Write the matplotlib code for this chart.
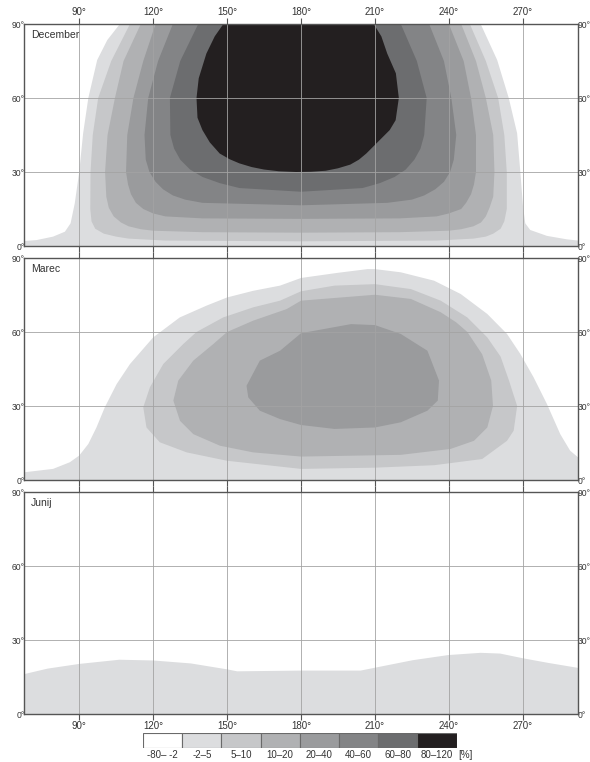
import matplotlib
matplotlib.use("Agg")
import matplotlib.pyplot as plt
from matplotlib.patches import Rectangle

plt.rcParams["font.family"] = ["Liberation Sans", "DejaVu Sans"]

# legend classes (percent) and their grey tones
CLASS_LABELS = ["-80\u2013 -2", "-2\u20135", "5\u201310", "10\u201320",
                "20\u201340", "40\u201360", "60\u201380", "80\u2013120"]
CLASS_COLORS = ["#ffffff", "#dcdddf", "#c6c7c9", "#b0b1b3",
                "#9a9b9d", "#838486", "#6c6d6f", "#231f20"]

AZ_TICKS = [90, 120, 150, 180, 210, 240, 270]
ALT_TICKS = [0, 30, 60, 90]

# contour outlines (azimuth deg, altitude deg), outer to inner, class index
DEC = [
    (1,
     [106.5, 101.4, 97.3, 93.7, 91.6, 90.0, 88.2, 86.5, 84.2, 79.4, 72.7, 67.5,
      67.5, 292.4, 292.4, 287.9, 279.8, 273.0, 271.0, 270.1, 269.0, 267.7,
      264.3, 259.6, 252.9],
     [90, 83.5, 75.4, 60, 45.7, 30, 17.3, 9.2, 5.8, 3.8, 2.4, 2.0,
      0, 0, 2.2, 2.7, 4.1, 6.5, 9.2, 15.9, 30, 45.7, 60, 75.4, 90]),
    (2,
     [110.6, 103, 97.7, 95.5, 94.6, 94.5, 95, 96.5, 100, 105, 110, 125, 180,
      235, 250, 255, 258, 261, 262.5, 263.5, 263.5, 262.5, 260, 255, 248.5],
     [90, 75, 60, 45, 30, 15, 10, 7, 5, 3.8, 3, 2.2, 1.9,
      2.2, 3, 3.8, 5, 7, 10, 15, 30, 45, 60, 75, 90]),
    (3,
     [115, 108, 104.5, 101.5, 100.5, 101, 102, 104, 107, 110, 115, 120, 140,
      180, 220, 240, 245, 250, 253, 255, 256.5, 258, 258.5, 258, 255, 251,
      245],
     [90, 75, 60, 45, 30, 20, 15.5, 12, 9.5, 8, 6.8, 6.2, 5.6,
      5.4, 5.6, 6.2, 6.8, 8, 9.5, 12, 15.5, 20, 30, 45, 60, 75, 90]),
    (4,
     [121, 116, 112, 109.5, 109, 109.8, 111, 113, 116, 120, 125, 140, 180, 220,
      235, 240, 245, 247, 249, 250.2, 251, 251, 249, 246, 240],
     [90, 75, 60, 45, 30, 25, 21, 17.5, 15, 13.2, 12, 11.2, 11, 11.2,
      12, 13.2, 15, 17.5, 21, 25, 30, 45, 60, 75, 90]),
    (5,
     [128, 122, 118, 116.5, 117, 118.5, 121, 124, 128, 133, 140, 180, 215,
      225, 230, 234.5, 238, 240.5, 242, 243, 241, 238, 232],
     [90, 75, 60, 45, 35, 30, 26, 23, 20.5, 18.8, 17.5, 16.5, 17.5,
      18.8, 20.5, 23, 26, 30, 35, 45, 60, 75, 90]),
    (6,
     [138.3, 131, 126.8, 127, 128.5, 131, 135, 140, 147, 155, 180, 205, 212,
      218, 222.5, 226, 228.5, 230, 231, 227, 220.5],
     [90, 75, 60, 45, 39.5, 35, 31, 28, 25.5, 23.5, 22, 23.5, 25.5,
      28, 31, 35, 39.5, 45, 60, 75, 90]),
    (7,
     [148.5, 145, 141.6, 138.5, 137.6, 138, 140, 143, 147, 151, 155, 160, 165,
      171, 178, 184, 190, 195, 200, 203.5, 206.5, 212, 216, 218.4, 219.7,
      218.5, 215, 212.6, 209.5],
     [90, 85, 78, 68, 60, 52, 47, 42, 37.5, 35.2, 33.5, 32, 31,
      30.3, 30, 30.1, 30.5, 31.5, 33, 35, 37.5, 43, 47, 51, 60,
      70, 78, 85, 90]),
]

MAR = [
    (1,
     [67.5, 79.4, 86.2, 90, 93.7, 97, 100.4, 105.2, 110.6, 120, 130.8, 141.7,
      150, 160.6, 171.5, 180, 195, 207, 210, 220.5, 234, 244.8, 255.6, 263.6,
      269, 274.4, 279.8, 285.2, 289.2, 292.4, 292.4, 67.5],
     [3.1, 4.5, 7.2, 9.9, 14.6, 21.3, 29.5, 38.9, 47, 57.8, 65.9, 70.7,
      74, 76.7, 78.8, 81.9, 84, 85.5, 85.5, 84.2, 80.8, 75.4, 67.3, 59.2,
      51.1, 41.6, 30.8, 18.6, 11.9, 9.2, 0, 0]),
    (2,
     [116, 118.7, 124.1, 132.2, 137.6, 148.4, 160.6, 171.5, 180, 193.6, 210,
      224.6, 236.7, 247.5, 255.6, 261, 264.5, 267.7, 266.3, 263.6, 253.5, 234,
      210, 180, 150, 133.6, 122.7, 117.3],
     [29.5, 37.6, 47, 55.1, 60, 65.9, 70, 72.7, 76.5, 78.8, 79.4,
      77.4, 72.7, 65.9, 57.8, 50, 40, 30, 20, 15.9, 8.5, 6,
      5, 4.5, 7.8, 11.2, 15.3, 21.3]),
    (3,
     [128.2, 130.2, 136.3, 144.4, 150, 160.6, 174.2, 180, 210, 224.6, 236.7,
      243, 247.5, 253.5, 257.2, 257.9, 255.6, 250.2, 240.7, 220.5, 180, 160.6,
      147.1, 136.3, 130.9],
     [32.2, 40.3, 48.4, 55.1, 60, 64.6, 69.3, 72.7, 75.1, 73.4, 68,
      63.9, 60, 51, 40.3, 30, 21.3, 15.9, 12.6, 10.2, 9.5, 11.2,
      13.9, 18.6, 24]),
    (4,
     [157.9, 163.3, 171.5, 180, 200.3, 210, 220.5, 231.3, 236, 235.5, 231.3,
      220.5, 210, 193.6, 180, 171.5, 163.3, 158.6],
     [38.2, 48.4, 52.4, 59.5, 63.2, 62.8, 59.2, 52.4, 40.3, 32.2, 28.1,
      23.4, 21.3, 20.7, 22.3, 24.7, 28.1, 33.5]),
]

JUN_AZ = [67.4, 77.2, 90, 106.3, 120, 135.3, 150, 154.1, 180, 204.2, 209.7,
          225.3, 239.8, 252.9, 260.8, 270, 280.4, 292.4]
JUN_ALT = [16.1, 18.4, 20.3, 22.0, 21.7, 20.5, 18.1, 17.3, 17.6, 17.6, 18.7,
           21.8, 23.9, 24.8, 24.5, 22.6, 20.7, 18.7]

fig = plt.figure(figsize=(5.9, 7.62), dpi=100)
L, W = 24 / 590, 554 / 590
H = 222 / 762
bottoms = [1 - 246 / 762, 1 - 480 / 762, 1 - 714 / 762]
names = ["December", "Marec", "Junij"]
axes = [fig.add_axes([L, b, W, H]) for b in bottoms]

GRID = "#a3a3a3"
SPINE = "#555555"
TXT = "#333333"

for i, ax in enumerate(axes):
    ax.set_xlim(67.6, 292.4)
    ax.set_ylim(0, 90)
    ax.set_facecolor("white")
    if i == 0:
        shapes = DEC
    elif i == 1:
        shapes = MAR
    else:
        shapes = [(1, JUN_AZ[:1] + JUN_AZ + [292.4, 67.4],
                   [0] + JUN_ALT + [0, 0])]
    for k, az, alt in shapes:
        ax.fill(az, alt, color=CLASS_COLORS[k], lw=0, zorder=1)
    for a in AZ_TICKS:
        ax.axvline(a, color=GRID, lw=0.6, zorder=3)
    for a in ALT_TICKS[1:3]:
        ax.axhline(a, color=GRID, lw=0.6, zorder=3)
    for s in ax.spines.values():
        s.set_color(SPINE)
        s.set_linewidth(1.0)
        s.set_zorder(4)
    ax.set_xticks(AZ_TICKS)
    ax.set_xticklabels([f"{a}\u00b0" for a in AZ_TICKS])
    ax.set_yticks(ALT_TICKS)
    ax.set_yticklabels([f"{a}\u00b0" for a in ALT_TICKS])
    ax.tick_params(axis="x", direction="out", length=4, width=0.8,
                   color=SPINE, labelsize=7, labelcolor=TXT, pad=1,
                   top=True, bottom=True,
                   labeltop=(i == 0), labelbottom=(i == 2))
    ax.tick_params(axis="y", length=0, labelsize=6.2, labelcolor=TXT, pad=-0.5,
                   left=True, right=True, labelleft=True, labelright=True)
    ax.text(0.012, 0.975, names[i], transform=ax.transAxes, ha="left",
            va="top", fontsize=7.5, color=TXT, zorder=5)

# class legend
lax = fig.add_axes([143 / 590, 1 - 747.5 / 762, 313.5 / 590, 15 / 762])
n = len(CLASS_COLORS)
for j, c in enumerate(CLASS_COLORS):
    lax.add_patch(Rectangle((j, 0), 1, 1, facecolor=c, edgecolor="#6a6a6a",
                            lw=0.8))
    lax.text(j + 0.5, -0.2, CLASS_LABELS[j], ha="center", va="top",
             fontsize=7, color=TXT)
lax.text(n + 0.05, -0.2, "[%]", ha="left", va="top", fontsize=7, color=TXT)
lax.set_xlim(0, n)
lax.set_ylim(0, 1)
lax.axis("off")

fig.savefig("out.png", dpi=100)
